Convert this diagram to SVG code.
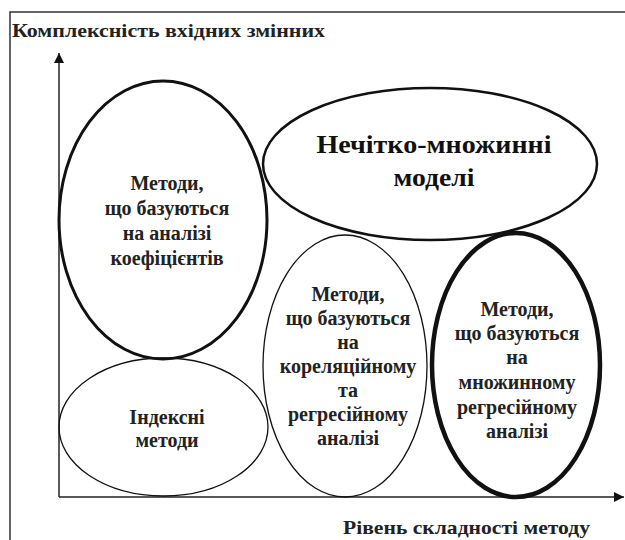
<svg xmlns="http://www.w3.org/2000/svg" width="625" height="540" viewBox="0 0 625 540">
  <style>
    .t { font-family: "Liberation Serif", "Times New Roman", "DejaVu Serif", serif; font-weight: bold; fill: #222; text-anchor: middle; font-size: 20px; }
    .axl { font-family: "Liberation Serif", "Times New Roman", "DejaVu Serif", serif; font-weight: bold; fill: #222; font-size: 19px; }
    .big { font-size: 25px; fill: #111; }
    .el { fill: none; stroke: #111; }
    .ax { stroke: #222; stroke-width: 1.5; fill: none; }
  </style>
  <defs>
    <marker id="arr" viewBox="0 0 10 10" refX="10" refY="5" markerWidth="10" markerHeight="10" markerUnits="userSpaceOnUse" orient="auto">
      <path d="M0,0 L10,5 L0,10 Z" fill="#111"/>
    </marker>
  </defs>
  <rect width="625" height="540" fill="#fff"/>
  <g id="frame">
    <path d="M10,540 V12 H625" stroke="#333" stroke-width="1.5" fill="none"/>
  </g>
  <g id="connectors">
    <line class="ax" x1="59" y1="497" x2="59" y2="53" marker-end="url(#arr)"/>
    <line class="ax" x1="59" y1="497" x2="624" y2="497" marker-end="url(#arr)"/>
  </g>
  <g id="axis-labels">
    <text class="axl" x="12" y="37" textLength="313" lengthAdjust="spacingAndGlyphs">Комплексність вхідних змінних</text>
    <text class="axl" x="343" y="534" textLength="247" lengthAdjust="spacingAndGlyphs">Рівень складності методу</text>
  </g>
  <g id="node-coef">
    <ellipse class="el" cx="163" cy="220" rx="104" ry="139" stroke-width="3"/>
    <text class="t" x="167" y="190">Методи,</text>
    <text class="t" x="167" y="215">що базуються</text>
    <text class="t" x="167" y="240">на аналізі</text>
    <text class="t" x="167" y="265">коефіцієнтів</text>
  </g>
  <g id="node-fuzzy">
    <ellipse class="el" cx="430" cy="164" rx="167" ry="76" stroke-width="2.5"/>
    <text class="t big" x="434" y="153" textLength="235" lengthAdjust="spacingAndGlyphs">Нечітко-множинні</text>
    <text class="t big" x="434" y="186" textLength="81" lengthAdjust="spacingAndGlyphs">моделі</text>
  </g>
  <g id="node-index">
    <ellipse class="el" cx="163.5" cy="427" rx="104.5" ry="69" stroke-width="1.3"/>
    <text class="t" x="167" y="424">Індексні</text>
    <text class="t" x="167" y="447">методи</text>
  </g>
  <g id="node-corr">
    <ellipse class="el" cx="345" cy="366" rx="82" ry="131" stroke-width="1.3"/>
    <text class="t" x="348" y="301">Методи,</text>
    <text class="t" x="348" y="325">що базуються</text>
    <text class="t" x="348" y="349">на</text>
    <text class="t" x="348" y="373">кореляційному</text>
    <text class="t" x="348" y="397">та</text>
    <text class="t" x="348" y="421">регресійному</text>
    <text class="t" x="348" y="445">аналізі</text>
  </g>
  <g id="node-multi">
    <ellipse class="el" cx="516" cy="365" rx="84" ry="132" stroke-width="4.5"/>
    <text class="t" x="517" y="316">Методи,</text>
    <text class="t" x="517" y="340">що базуються</text>
    <text class="t" x="517" y="364">на</text>
    <text class="t" x="517" y="389">множинному</text>
    <text class="t" x="517" y="414">регресійному</text>
    <text class="t" x="517" y="438">аналізі</text>
  </g>
</svg>
